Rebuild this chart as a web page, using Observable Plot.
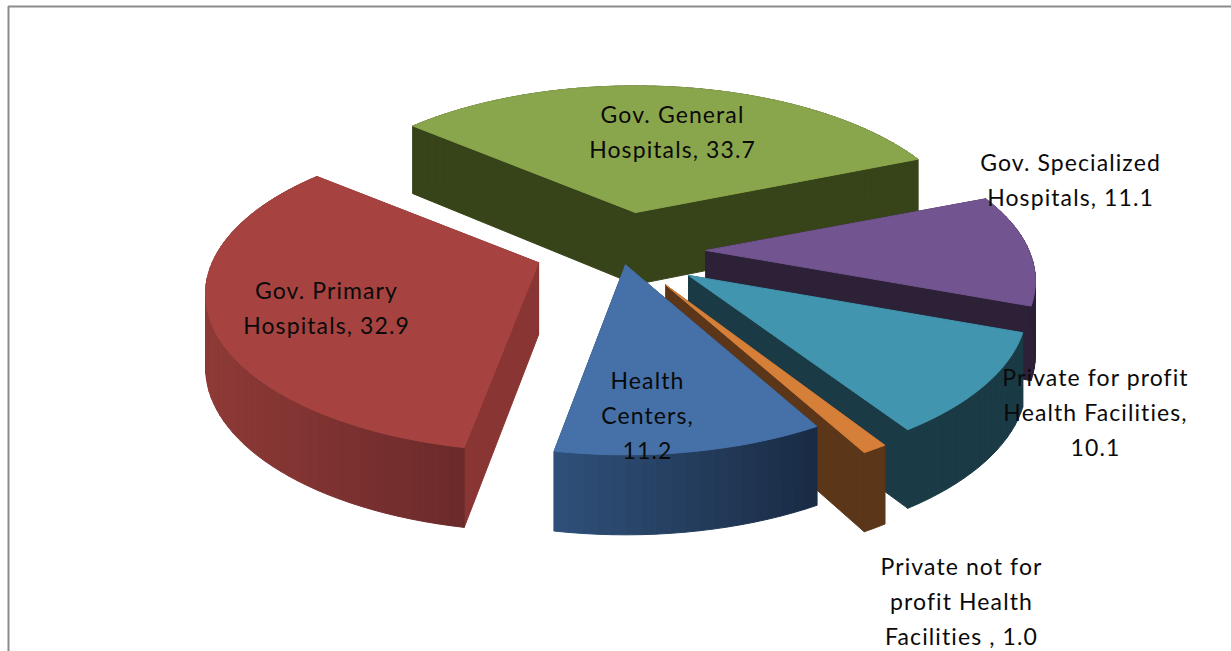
<!DOCTYPE html>
<html><head><meta charset="utf-8">
<script src="https://cdn.jsdelivr.net/npm/d3@7"></script>
<script src="https://cdn.jsdelivr.net/npm/@observablehq/plot@0.6"></script>
<style>html,body{margin:0;padding:0;background:#fff;overflow:hidden}svg{display:block}</style>
</head><body><div id="chart"></div>
<script>
// Data (clockwise from the pie's first-slice angle)
const names = ["Gov. General Hospitals","Gov. Specialized Hospitals","Private for profit Health Facilities","Private not for profit Health Facilities","Health Centers","Gov. Primary Hospitals"];
const values = [33.7,11.1,10.1,1.0,11.2,32.9];
const labelTexts = ["Gov. General\nHospitals, 33.7","Gov. Specialized\nHospitals, 11.1","Private for profit\nHealth Facilities,\n10.1","Private not for\nprofit Health\nFacilities , 1.0","Health\nCenters,\n11.2","Gov. Primary\nHospitals, 32.9"];

// Styling / layout, separate from the data
const topColors  = ["#8aa64c","#725490","#4195af","#d67f39","#4571a8","#a64340"];
const wallColors = ["#374419","#2c2137","#1a3a46","#5b3618","#1f3556","#893533"];
const rimFrom    = ["#374419","#2c2137","#1a3a46","#5b3618","#2f5079","#8e3a37"];
const rimTo      = ["#374419","#2c2137","#1a3a46","#5b3618","#1a2b44","#6b2a2a"];
const explode    = [0.26,0.26,0.26,0.26,0.10,0.26];
const radius     = [1,0.985,1.01,1.03,1,0.995];
const nudgeStart = [0,-3,-1,0,0,-1];
const nudgeEnd   = [-3.5,-1,-1,0,-1.5,0];
const drawOrder  = [0,5,1,2,3,4];
const labelX = [672,1070,1095,961,647,326];
const labelY = [129,177,409,598,412,305];
const view = {cx:620, cy:249, A:328, B:152, p:0.2, h:72, hp:0.1, start:-50};

const total = d3.sum(values);
const proj = (u,v) => { const d = 1 + view.p*v; return [view.A*u/d, -view.B*v/d]; };
let acc = view.start;
const slices = values.map((val,i) => {
  const s0 = acc, s1 = acc + val/total*360; acc = s1;
  const mid = (s0+s1)/2*Math.PI/180, e = explode[i];
  const [ax, ay] = proj(e*Math.sin(mid), e*Math.cos(mid));
  const apex = {x: view.cx+ax, y: view.cy+ay};
  const a0 = s0+nudgeStart[i], a1 = s1+nudgeEnd[i];
  const n = Math.max(2, Math.round((a1-a0)/2));
  const rim = d3.range(n+1).map(k => (a0+(a1-a0)*k/n)*Math.PI/180);
  // a rim point at depth z, relative to the slice's own apex
  const at = (t,z) => {
    const u = radius[i]*Math.sin(t), v = radius[i]*Math.cos(t);
    const [x,y] = proj(u,v);
    return {x: apex.x+x, y: apex.y+y+z*view.h/(1+view.hp*v)};
  };
  return {apex, rim, at};
});
const poly = (pts, fill) => Plot.line([...pts, pts[0]], {x:"x", y:"y", fill, stroke:fill, strokeWidth:1, strokeLinejoin:"round"});

const marks = [
  Plot.ruleX([8], {y1:6, y2:651, stroke:"#8c8c8c", strokeWidth:2}),
  Plot.ruleY([6], {x1:8, x2:1231, stroke:"#8c8c8c", strokeWidth:2})
];
for (const idx of drawOrder) {
  const {apex, rim, at} = slices[idx];
  const low = {x:apex.x, y:apex.y+view.h};
  for (const t of [rim[0], rim[rim.length-1]])
    marks.push(poly([apex, at(t,0), at(t,1), low], wallColors[idx]));
  const col = d3.interpolateRgb(rimFrom[idx], rimTo[idx]);
  const xs = rim.map(t => at(t,0).x);
  const xmin = d3.min(xs), xmax = d3.max(xs);
  for (let k = 0; k < rim.length-1; k++) {
    const f = ((xs[k]+xs[k+1])/2 - xmin)/(xmax-xmin);
    marks.push(poly([at(rim[k],0), at(rim[k+1],0), at(rim[k+1],1), at(rim[k],1)], col(f)));
  }
  marks.push(poly([apex, ...rim.map(t => at(t,0))], topColors[idx]));
}
marks.push(Plot.text(labelTexts, {
  x:(d,i)=>labelX[i], y:(d,i)=>labelY[i], text:d=>d,
  fontSize:23, lineHeight:1.52, textAnchor:"middle", fill:"#0a0a0a", fontFamily:"Lato"
}));
const chart = Plot.plot({
  width:1231, height:651, margin:0,
  x:{domain:[0,1231], range:[0,1231], axis:null},
  y:{domain:[0,651], range:[0,651], axis:null},
  style:{background:"#fff", fontFamily:"Lato", letterSpacing:"1.1px"},
  marks
});
document.getElementById("chart").appendChild(chart);
</script></body></html>
